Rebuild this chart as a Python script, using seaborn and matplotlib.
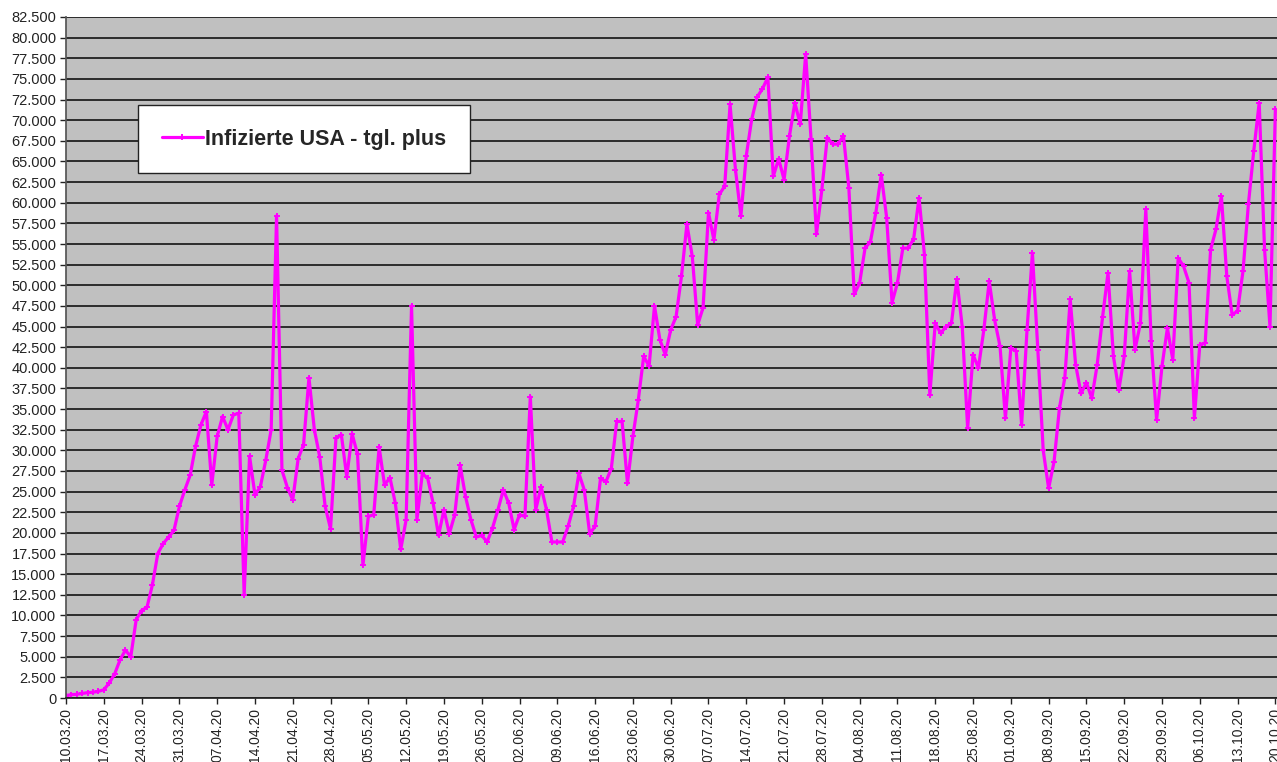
import pandas as pd
import numpy as np
import matplotlib.pyplot as plt
import matplotlib.dates as mdates
from matplotlib.ticker import FuncFormatter, MultipleLocator
import seaborn as sns

sns.set_theme(style="white")
plt.rcParams['font.family'] = ['Liberation Sans', 'DejaVu Sans']

# daily new infections USA, starting 10.03.20
start_date = "2020-03-10"
series_label = "Infizierte USA - tgl. plus"
new_cases = [
    300, 400, 450, 550, 650, 700, 800, 1000, 1800, 2900,
    4600, 5800, 5000, 9500, 10600, 11000, 13700, 17500, 18700, 19500,
    20300, 23200, 25200, 27000, 30500, 33100, 34700, 25800, 31700, 34100,
    32500, 34300, 34500, 12500, 29300, 24600, 25600, 28800, 32500, 58400,
    27600, 25500, 24000, 29000, 30700, 38800, 32500, 29200, 23200, 20500,
    31500, 31900, 26800, 32000, 29500, 16100, 22000, 22200, 30400, 25800,
    26700, 23600, 18000, 21600, 47500, 21600, 27200, 26600, 23600, 19700,
    22800, 19900, 22200, 28200, 24400, 21600, 19500, 19700, 18900, 20600,
    22800, 25200, 23600, 20400, 22200, 22000, 36500, 22800, 25600, 22800,
    18900, 18900, 18900, 20800, 23200, 27200, 25200, 19900, 20800, 26600,
    26200, 27800, 33500, 33500, 26000, 31700, 36100, 41400, 40200, 47500,
    43400, 41600, 44600, 46200, 51100, 57400, 53500, 45200, 47300, 58800,
    55500, 61000, 62000, 71900, 64000, 58400, 65700, 70100, 72800, 73800,
    75200, 63200, 65300, 62800, 68100, 72100, 69500, 78000, 67700, 56200,
    61600, 67900, 67100, 67100, 68100, 61800, 48900, 50300, 54500, 55300,
    58800, 63400, 58200, 47900, 50300, 54500, 54500, 55600, 60600, 53700,
    36700, 45400, 44200, 45000, 45400, 50700, 45000, 32700, 41600, 40000,
    44600, 50500, 45800, 42600, 33900, 42400, 42000, 33100, 44600, 53900,
    42200, 30000, 25400, 28600, 35100, 38800, 48300, 40400, 36900, 38200,
    36300, 40400, 46200, 51500, 41400, 37300, 41400, 51700, 42200, 45400,
    59200, 43200, 33700, 40200, 44800, 41000, 53300, 52300, 50300, 33900,
    42800, 43000, 54300, 56800, 60800, 51100, 46400, 46900, 51700, 59800,
    66300, 72100, 54300, 45000, 71300,
]

dates = pd.date_range(start_date, periods=len(new_cases), freq="D")
df = pd.DataFrame({"Datum": dates, "Infizierte": new_cases})

fig = plt.figure(figsize=(12.77, 7.62), dpi=100)
ax = fig.add_axes([66 / 1277, 1 - 698 / 762, 1 - 66 / 1277, (698 - 17) / 762])

sns.lineplot(data=df, x="Datum", y="Infizierte", ax=ax, color="#FF00FF",
             linewidth=2.3, marker="+", markersize=5, markeredgewidth=1.4,
             markeredgecolor="#FF00FF", label=series_label)

# axes styling (Excel look)
ax.set_facecolor("#C0C0C0")
ax.set_ylim(0, 82500)
ax.set_xlim(dates[0], dates[0] + pd.Timedelta(days=224.3))
ax.yaxis.set_major_locator(MultipleLocator(2500))
ax.yaxis.set_major_formatter(FuncFormatter(lambda v, p: f"{v:,.0f}".replace(",", ".")))
ax.grid(axis="y", color="#2b2b2b", linewidth=1.4)
ax.get_ygridlines()[-1].set_visible(False)

ax.set_xticks(pd.date_range(start_date, "2020-10-20", freq="7D"))
ax.xaxis.set_major_formatter(mdates.DateFormatter("%d.%m.%y"))
plt.setp(ax.get_xticklabels(), rotation=90)

ax.tick_params(axis="both", which="major", colors="#222222",
               length=4, width=1, direction="out", left=True, bottom=True)
ax.tick_params(axis="x", pad=3, labelsize=10)
ax.tick_params(axis="y", pad=3, labelsize=10.5)

for side in ["top", "right"]:
    ax.spines[side].set_visible(False)
ax.spines["left"].set_color("#555555")
ax.spines["bottom"].set_color("#222222")
ax.set_xlabel("")
ax.set_ylabel("")

leg = ax.legend(loc="upper left", bbox_to_anchor=((138 - 66) / 1211, (698 - 105) / 681),
                borderaxespad=0, borderpad=1.1, handlelength=1.9, handletextpad=0.1,
                frameon=True, fancybox=False, prop={"weight": "bold", "size": 15.5})
leg.get_frame().set_edgecolor("#222222")
leg.get_frame().set_facecolor("white")
leg.get_frame().set_linewidth(1.0)
leg.get_frame().set_alpha(1)

fig.savefig("out.png", dpi=100)
